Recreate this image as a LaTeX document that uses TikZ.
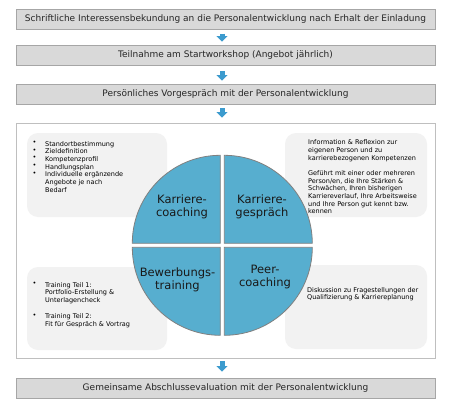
\documentclass[tikz,border=0pt]{standalone}
\usepackage{fontspec}
\setmainfont{DejaVu Sans}
\usetikzlibrary{arrows.meta}
\definecolor{boxfill}{HTML}{D9D9D9}
\definecolor{boxline}{HTML}{A6A6A6}
\definecolor{frameline}{HTML}{BFBFBF}
\definecolor{arrowblue}{HTML}{3C9BCE}
\definecolor{quadfill}{HTML}{57AECF}
\definecolor{quadline}{HTML}{808080}
\definecolor{notefill}{HTML}{F2F2F2}
\definecolor{textdark}{HTML}{262626}
\begin{document}
\begin{tikzpicture}[x=1pt,y=1pt,
  stepbox/.style={draw=boxline,line width=0.9pt,fill=boxfill,minimum width=419pt,minimum height=20pt,inner sep=0pt,font=\fontsize{9}{11}\selectfont,text=textdark},
  flowarrow/.style={draw=arrowblue,line width=5pt,-{Triangle[width=11pt,length=5.5pt]}},
  notebox/.style={fill=notefill,rounded corners=11pt},
  notetext/.style={anchor=north west,inner sep=0pt,align=left,font=\fontsize{6.5}{7.7}\selectfont,text=black},
  quad/.style={fill=quadfill,draw=quadline,line width=0.8pt},
  quadtext/.style={align=center,inner sep=0pt,font=\fontsize{11.5}{13}\selectfont,text=black!90}]
\useasboundingbox (0,0) rectangle (454,405);
\fill[white] (0,0) rectangle (454,405);
% flow boxes
\node[stepbox] (b1) at (225.5,385.5) {Schriftliche Interessensbekundung an die Personalentwicklung nach Erhalt der Einladung};
\node[stepbox] (b2) at (225.5,350) {Teilnahme am Startworkshop (Angebot jährlich)};
\node[stepbox] (b3) at (225.5,311) {Persönliches Vorgespräch mit der Personalentwicklung};
\node[draw=frameline,line width=0.9pt,fill=white,minimum width=419pt,minimum height=235pt,inner sep=0pt] (frame) at (225.5,164.5) {};
\node[stepbox] (b4) at (225.5,17) {Gemeinsame Abschlussevaluation mit der Personalentwicklung};
\coordinate (ax) at (222,0);
\draw[flowarrow,shorten <=4pt,shorten >=3pt] (b1.south -| ax) -- (b2.north -| ax);
\draw[flowarrow,shorten <=6pt,shorten >=3pt] (b2.south -| ax) -- (b3.north -| ax);
\draw[flowarrow,shorten <=4pt,shorten >=5pt] (b3.south -| ax) -- (frame.north -| ax);
\draw[flowarrow,shorten <=3pt,shorten >=6pt] (frame.south -| ax) -- (b4.north -| ax);
% note boxes
\fill[notebox] (27,188) rectangle (167,272);
\fill[notebox] (285,188) rectangle (427,272);
\fill[notebox] (27,55) rectangle (167,138);
\fill[notebox] (285,56) rectangle (427,140);
% quadrants
\def\rr{88}
\draw[quad] (220.3,161.7) -- ++(-\rr,0) arc[start angle=180,end angle=90,radius=\rr] -- cycle;
\draw[quad] (224.3,161.7) -- ++(0,\rr) arc[start angle=90,end angle=0,radius=\rr] -- cycle;
\draw[quad] (220.3,157.7) -- ++(-\rr,0) arc[start angle=180,end angle=270,radius=\rr] -- cycle;
\draw[quad] (224.3,157.7) -- ++(0,-\rr) arc[start angle=270,end angle=360,radius=\rr] -- cycle;
\node[quadtext] (kc) at (182,198) {Karriere-\\coaching};
\node[quadtext] (kg) at (262,198) {Karriere-\\gespräch};
\node[quadtext] (bt) at (177.5,125) {Bewerbungs-\\training};
\node[quadtext] (pc) at (265,128) {Peer-\\coaching};
% note texts
\node[notetext] (tlb) at (32.5,264) {•\\•\\•\\•\\•};
\node[notetext] (tlt) at (45,264) {Standortbestimmung\\Zieldefinition\\Kompetenzprofil\\Handlungsplan\\Individuelle ergänzende\\Angebote je nach\\Bedarf};
\node[notetext] (trt) at (308,265.5) {Information \& Reflexion zur\\eigenen Person und zu\\karrierebezogenen Kompetenzen\\[7.7pt]Geführt mit einer oder mehreren\\Person/en, die Ihre Stärken \&\\Schwächen, Ihren bisherigen\\Karriereverlauf, Ihre Arbeitsweise\\und Ihre Person gut kennt bzw.\\kennen};
\node[notetext] (blb) at (32.5,123) {•\\[24pt]•};
\node[notetext] (blt) at (45,123) {Training Teil 1:\\Portfolio-Erstellung \&\\Unterlagencheck\\[8.5pt]Training Teil 2:\\Fit für Gespräch \& Vortrag};
\node[notetext] (brt) at (307,118) {Diskussion zu Fragestellungen der\\Qualifizierung \& Karriereplanung};
\end{tikzpicture}
\end{document}
